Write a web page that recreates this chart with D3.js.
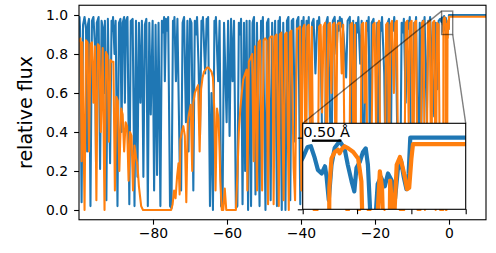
<!DOCTYPE html>
<html><head><meta charset="utf-8">
<script src="https://cdn.jsdelivr.net/npm/d3@7"></script>
<style>body{margin:0;background:#fff}svg{display:block}text{font-family:"DejaVu Sans",sans-serif}</style>
</head><body><svg id="c" width="496" height="253"></svg>
<script>
// ---- data (x in Å offset, y relative flux) ----
const blueFlux = [[-100.0,0.97],[-99.85,0.99],[-99.7,0.92],[-99.3,0.04],[-98.9,0.95],[-98.5,0.99],[-98.1,0.93],[-97.8,0.30],[-97.6,0.95],[-97.3,0.98],[-96.9,0.02],[-96.5,0.97],[-96.1,0.99],[-95.7,0.85],[-95.4,0.24],[-95.2,0.96],[-94.7,0.99],[-94.3,0.21],[-93.9,0.97],[-93.5,0.93],[-93.2,0.60],[-93.0,0.97],[-92.6,0.05],[-92.2,0.98],[-91.6,0.24],[-91.2,0.97],[-91.0,0.92],[-90.8,0.99],[-90.4,0.80],[-90.1,0.97],[-89.6,0.02],[-89.2,0.96],[-88.8,0.98],[-88.5,0.40],[-88.2,0.96],[-87.8,0.99],[-87.6,0.55],[-87.3,0.97],[-86.9,0.99],[-86.4,0.03],[-86.0,0.97],[-85.5,0.98],[-85.0,0.02],[-84.6,0.97],[-84.2,0.17],[-83.8,0.96],
[-83.4,0.55],[-83.0,0.97],[-82.6,0.17],[-82.2,0.95],[-81.8,0.98],[-81.4,0.02],[-81.0,0.96],[-80.6,0.49],[-80.1,0.97],[-79.7,0.10],[-79.3,0.95],[-78.9,0.18],[-78.5,0.96],[-78.0,0.02],[-77.6,0.97],[-77.3,0.91],[-77.0,0.99],[-76.8,0.66],[-76.5,0.98],[-76.2,0.92],[-75.9,0.99],[-75.4,0.02],[-75.0,0.01],[-74.6,0.97],[-74.4,0.93],[-74.2,0.99],[-73.8,0.66],[-73.4,0.98],[-72.8,0.25],[-72.4,0.10],[-72.0,0.96],[-71.6,0.99],[-71.1,0.45],[-70.7,0.97],[-70.4,0.30],[-70.0,0.98],[-69.6,0.96],[-69.1,0.10],[-68.7,0.97],[-68.4,0.90],[-68.1,0.99],[-67.7,0.75],[-67.3,0.38],[-66.9,0.97],[-66.7,0.93],[-66.5,0.99],[-65.9,0.70],[-65.5,0.98],[-65.3,0.92],[-65.1,0.99],[-64.6,0.02],[-64.2,0.60],[-63.8,0.00],[-63.4,0.97],[-63.2,0.91],[-63.0,0.99],[-62.4,0.66],[-62.0,0.97],[-61.6,0.02],[-61.2,0.01],[-60.8,0.96],[-60.1,0.45],[-59.7,0.97],
[-59.3,0.38],[-58.9,0.98],[-58.5,0.66],[-58.1,0.97],[-57.6,0.01],[-57.2,0.02],[-56.8,0.96],[-56.5,0.90],[-56.2,0.98],[-55.8,0.03],[-55.4,0.96],[-55.1,0.20],[-54.7,0.97],[-54.3,0.00],[-53.9,0.97],[-53.5,0.02],[-53.1,0.96],[-52.7,0.99],[-52.3,0.08],[-51.9,0.96],[-51.2,0.02],[-50.8,0.97],[-50.55,0.92],[-50.3,0.99],[-49.6,0.00],[-49.2,0.96],[-48.8,0.98],[-48.2,0.05],[-47.8,0.96],[-47.4,0.45],[-47.0,0.97],[-46.5,0.02],[-46.1,0.97],[-45.9,0.93],[-45.7,0.99],[-45.2,0.00],[-44.8,0.96],[-44.2,0.00],[-43.8,0.97],[-43.4,0.99],[-42.9,0.05],[-42.5,0.97],[-42.1,0.98],[-41.6,0.35],[-41.1,0.97],[-40.7,0.99],[-40.2,0.03],
[-39.8,0.97],[-39.55,0.92],[-39.3,0.99],[-38.9,0.60],[-38.5,0.97],[-38.2,0.91],[-37.9,0.99],[-37.4,0.02],[-37.0,0.96],[-36.6,0.98],[-36.1,0.70],[-35.6,0.97],[-35.35,0.93],[-35.1,0.99],[-34.7,0.85],[-34.0,0.02],[-33.6,0.03],[-33.2,0.96],[-32.8,0.99],[-32.2,0.55],[-31.8,0.05],[-31.4,0.97],[-30.9,0.99],[-30.4,0.80],[-30.0,0.97],[-29.75,0.92],[-29.5,0.99],[-29.25,0.94],[-29.0,0.98],[-28.5,0.90],[-27.8,0.68],[-27.4,0.97],[-26.8,0.99],[-26.3,0.30],[-25.9,0.97],[-25.5,0.02],[-25.1,0.96],[-24.8,0.91],[-24.5,0.99],[-24.0,0.75],[-23.6,0.97],[-23.1,0.04],[-22.7,0.60],[-22.2,0.97],[-21.95,0.92],[-21.7,0.99],[-21.3,0.03],[-20.9,0.96],[-20.4,0.98],[-19.8,0.75],[-19.4,0.96],[-19.0,0.02],[-18.6,0.96],[-18.35,0.92],[-18.1,0.99],[-17.5,0.70],[-17.0,0.03],[-16.6,0.96],[-16.2,0.98],[-15.8,0.10],[-15.4,0.96],[-15.1,0.92],[-14.8,0.99],[-14.3,0.80],[-13.7,0.02],[-13.2,0.04],[-12.8,0.96],[-12.5,0.91],[-12.2,0.98],[-11.7,0.55],[-11.2,0.97],[-10.9,0.93],[-10.6,0.99],[-10.2,0.02],[-9.8,0.03],[-9.4,0.96],[-9.15,0.92],[-8.9,0.99],[-8.3,0.05],[-7.9,0.96],[-7.5,0.40],[-7.1,0.97],[-6.85,0.92],[-6.6,0.99],[-6.0,0.45],[-5.6,0.97],[-5.35,0.93],[-5.1,0.99],[-4.5,0.70],[-4.0,0.48],[-3.6,0.96],[-3.1,0.62],[-2.8,0.97],[-2.4,0.98],
[-2.05,0.965],[-1.99,0.973],[-1.91,0.987],[-1.85,0.988],[-1.78,0.972],[-1.72,0.955],[-1.65,0.950],[-1.59,0.960],[-1.56,0.945],[-1.52,0.913],[-1.47,0.962],[-1.41,0.986],[-1.32,0.995],[-1.23,0.985],[-1.17,0.962],[-1.10,0.939],[-1.05,0.925],[-1.01,0.958],[-0.95,0.966],[-0.89,0.980],[-0.84,0.985],[-0.80,0.962],[-0.76,0.90],[-0.70,0.50],[-0.65,0.90],[-0.62,0.935],[-0.56,0.945],[-0.49,0.932],[-0.43,0.950],[-0.36,0.940],[-0.30,0.915],[-0.25,0.955],[-0.19,0.968],[-0.14,0.945],[-0.09,0.928],[-0.05,0.950],[-0.02,1.0],[10,1.0]];

const orangeFlux = [[-100.0,0.86],[-99.9,0.87],[-99.6,0.88],[-99.3,0.25],[-99.1,0.86],[-98.5,0.00],[-98.1,0.87],[-97.7,0.86],[-97.3,0.30],[-96.9,0.85],[-96.5,0.86],[-96.1,0.55],[-95.7,0.84],[-95.3,0.05],[-94.9,0.85],[-94.5,0.84],[-94.1,0.40],[-93.6,0.83],[-93.1,0.00],[-92.7,0.81],[-92.3,0.79],[-91.9,0.35],[-91.5,0.77],[-91.1,0.76],[-90.7,0.76],[-90.3,0.10],[-89.9,0.58],[-89.5,0.56],[-89.1,0.20],[-88.6,0.52],[-88.2,0.49],[-87.8,0.30],[-87.4,0.45],[-87.0,0.43],[-86.6,0.15],[-86.2,0.40],[-85.8,0.38],[-85.4,0.10],[-85.0,0.33],[-84.6,0.27],[-84.2,0.23],[-83.8,0.12],[-83.2,0.02],[-82.7,0.00],
[-75.1,0.00],[-74.7,0.03],[-74.3,0.10],[-73.9,0.06],[-73.5,0.17],[-73.1,0.24],[-72.8,0.08],[-72.6,0.36],[-72.2,0.40],[-71.8,0.43],[-71.4,0.38],[-71.0,0.04],[-70.6,0.45],[-70.2,0.50],[-69.8,0.54],[-69.4,0.20],[-69.1,0.55],[-68.7,0.60],[-68.3,0.62],[-67.8,0.64],[-67.4,0.30],[-67.0,0.62],[-66.6,0.68],[-66.2,0.71],[-65.8,0.72],[-65.4,0.73],[-65.0,0.73],[-64.6,0.72],[-64.2,0.71],[-63.8,0.68],[-63.4,0.50],[-63.1,0.10],[-62.7,0.52],[-62.3,0.47],[-62.0,0.30],[-61.8,0.15],[-61.4,0.00],[-61.0,0.00],[-60.6,0.11],[-60.2,0.00],[-57.6,0.00],[-57.2,0.18],[-56.8,0.40],[-56.4,0.52],[-56.0,0.60],[-55.6,0.67],[-55.1,0.70],[-54.7,0.72],[-54.5,0.10],[-54.1,0.76],[-53.6,0.78],[-53.2,0.80],[-52.8,0.25],[-52.4,0.84],[-51.9,0.10],[-51.5,0.86],[-51.1,0.87],[-50.5,0.10],[-50.1,0.87],[-49.7,0.88],[-49.3,0.87],[-48.9,0.03],[-48.5,0.88],[-48.1,0.89],[-47.7,0.89],[-47.4,0.03],[-47.0,0.89],[-46.6,0.90],[-46.0,0.02],[-45.7,0.90],[-45.3,0.91],[-44.7,0.05],[-44.3,0.90],[-43.9,0.91],[-43.3,0.00],[-43.0,0.91],[-42.6,0.92],[-42.0,0.22],[-41.6,0.05],[-41.1,0.93],[-40.7,0.93],[-40.3,0.94],
[-39.9,0.10],[-39.5,0.93],[-39.1,0.95],[-38.7,0.02],[-38.3,0.94],[-37.9,0.95],[-37.5,0.40],[-37.1,0.94],[-36.6,0.00],[-35.5,0.00],[-35.1,0.94],[-34.7,0.95],[-34.3,0.50],[-33.9,0.94],[-33.5,0.96],[-33.1,0.05],[-32.6,0.95],[-32.2,0.96],[-31.8,0.60],[-31.4,0.95],[-31.0,0.96],[-30.6,0.02],[-30.2,0.95],[-29.8,0.96],[-29.4,0.96],[-29.0,0.70],[-28.6,0.95],[-28.1,0.02],[-27.8,0.00],[-27.0,0.00],[-26.6,0.95],[-26.2,0.96],[-25.8,0.30],[-25.4,0.95],[-25.0,0.05],[-24.7,0.00],[-24.0,0.00],[-23.6,0.95],[-23.2,0.96],[-22.8,0.55],[-22.4,0.96],[-22.0,0.00],[-21.2,0.00],[-20.5,0.95],[-20.1,0.96],[-19.7,0.40],[-19.3,0.95],[-18.9,0.97],[-18.5,0.02],[-17.4,0.00],[-17.0,0.95],[-16.6,0.96],[-16.2,0.20],[-15.8,0.95],[-15.4,0.97],[-14.9,0.60],[-14.5,0.96],[-14.1,0.97],[-13.7,0.03],[-13.3,0.00],[-12.1,0.00],[-11.7,0.96],[-11.3,0.97],[-10.9,0.45],[-10.5,0.96],[-10.1,0.97],[-9.7,0.05],[-9.3,0.96],[-8.9,0.97],[-8.5,0.00],[-7.7,0.00],[-7.3,0.96],[-6.9,0.97],[-6.5,0.00],[-6.1,0.02],[-5.7,0.96],[-5.2,0.97],[-4.8,0.10],[-4.4,0.96],[-4.0,0.97],[-3.6,0.00],[-3.2,0.96],[-2.8,0.95],[-2.4,0.00],[-1.55,0.00],
[-1.51,0.93],[-1.47,0.971],[-1.41,0.980],[-1.35,0.983],[-1.32,0.978],[-1.28,0.984],[-1.23,0.988],[-1.16,0.985],[-1.07,0.980],[-0.98,0.971],[-0.92,0.939],[-0.89,0.85],[-0.86,0.00],[-0.67,0.00],[-0.63,0.88],[-0.58,0.953],[-0.54,0.93],[-0.51,0.85],[-0.47,0.30],[-0.45,0.50],[-0.39,0.94],[-0.35,0.90],[-0.32,0.88],[-0.27,0.962],[-0.21,0.973],[-0.18,0.965],[-0.12,0.945],[-0.08,0.928],[-0.04,0.930],[0.00,0.97],[0.03,0.991],[10,0.991]];

const xTicks = [-80, -60, -40, -20, 0];
const yTicks = [0.0, 0.2, 0.4, 0.6, 0.8, 1.0];
const xDomain = [-100, 10];
const yDomain = [-0.05, 1.05];
const insetXDomain = [-2, 1];
const insetYDomain = [0.9, 1.02];
const insetXTicks = [-2, -1, 0, 1];
const insetYTicks = [0.9, 1.0];
const yLabel = "relative flux";
const scaleBarLabel = "0.50 Å";
const scaleBarRange = [-1.83, -1.29];
const colors = {blue: "#1f77b4", orange: "#ff7f0e"};

// ---- drawing ----
const svg = d3.select("#c");
const L = 79, R = 486, T = 5.25, B = 219.75;
const x = d3.scaleLinear().domain(xDomain).range([L, R]);
const y = d3.scaleLinear().domain(yDomain).range([B, T]);
const fmt = d => d < 0 ? "\u2212" + Math.abs(d) : String(d);

const defs = svg.append("defs");
defs.append("clipPath").attr("id","mainClip").append("rect").attr("x",L).attr("y",T).attr("width",R-L).attr("height",B-T);

const line = d3.line().x(d => x(d[0])).y(d => y(d[1]));
const gMain = svg.append("g").attr("clip-path","url(#mainClip)");
[[blueFlux, colors.blue],[orangeFlux, colors.orange]].forEach(([data, c]) => {
  gMain.append("path").datum(data).attr("d", line).attr("fill","none")
    .attr("stroke", c).attr("stroke-width", 2.08).attr("stroke-linejoin","round");
});

// axes
const xAxis = d3.axisBottom(x).tickValues(xTicks).tickFormat(fmt).tickSize(4.9).tickSizeOuter(0).tickPadding(3.5);
const gx = svg.append("g").attr("transform",`translate(0,${B})`).call(xAxis);
const yAxis = d3.axisLeft(y).tickValues(yTicks).tickFormat(d3.format(".1f")).tickSize(4.9).tickSizeOuter(0).tickPadding(6);
const gy = svg.append("g").attr("transform",`translate(${L},0)`).call(yAxis);
[gx, gy].forEach(g => {
  g.select(".domain").remove();
  g.selectAll(".tick line").attr("stroke","#000").attr("stroke-width",1.1);
  g.selectAll(".tick text").attr("fill","#000").style("font-size","13.9px").style("font-family","DejaVu Sans");
});
svg.append("rect").attr("x",L).attr("y",T).attr("width",R-L).attr("height",B-T)
  .attr("fill","none").attr("stroke","#000").attr("stroke-width",1.1);

svg.append("text").attr("transform",`translate(25,${(T+B)/2}) rotate(-90)`)
  .attr("text-anchor","middle").attr("dominant-baseline","central")
  .style("font-size","19px").text(yLabel);

// inset geometry
const IL = 302.7, IR = 465.7, IT = 123.3, IB = 209.3;
const ix = d3.scaleLinear().domain(insetXDomain).range([IL, IR]);
const iy = d3.scaleLinear().domain(insetYDomain).range([IB, IT]);

// zoom indicator rectangle + connectors
const rx0 = x(insetXDomain[0]), rx1 = x(insetXDomain[1]);
const ry0 = y(insetYDomain[1]), ry1 = y(insetYDomain[0]);
const ind = svg.append("g").attr("stroke","#000").attr("stroke-opacity",0.5).attr("stroke-width",1.4).attr("fill","none");
ind.append("rect").attr("x",rx0).attr("y",ry0).attr("width",rx1-rx0).attr("height",ry1-ry0);
ind.append("line").attr("x1",rx0).attr("y1",ry0).attr("x2",IL).attr("y2",IT);
ind.append("line").attr("x1",rx1).attr("y1",ry1).attr("x2",IR).attr("y2",IT);

// inset
svg.append("rect").attr("x",IL).attr("y",IT).attr("width",IR-IL).attr("height",IB-IT).attr("fill","#fff");
defs.append("clipPath").attr("id","insetClip").append("rect").attr("x",IL).attr("y",IT).attr("width",IR-IL).attr("height",IB-IT);
const iline = d3.line().x(d => ix(d[0])).y(d => iy(d[1]));
const gIn = svg.append("g").attr("clip-path","url(#insetClip)");
[[blueFlux, colors.blue],[orangeFlux, colors.orange]].forEach(([data, c]) => {
  gIn.append("path").datum(data).attr("d", iline).attr("fill","none")
    .attr("stroke", c).attr("stroke-width", 4.2).attr("stroke-linejoin","round");
});
const gix = svg.append("g").attr("transform",`translate(0,${IB})`).call(d3.axisBottom(ix).tickValues(insetXTicks).tickFormat("").tickSize(4.9).tickSizeOuter(0));
const giy = svg.append("g").attr("transform",`translate(${IL},0)`).call(d3.axisLeft(iy).tickValues(insetYTicks).tickFormat("").tickSize(4.9).tickSizeOuter(0));
[gix, giy].forEach(g => { g.select(".domain").remove(); g.selectAll(".tick line").attr("stroke","#000").attr("stroke-width",1.1); });
svg.append("rect").attr("x",IL).attr("y",IT).attr("width",IR-IL).attr("height",IB-IT)
  .attr("fill","none").attr("stroke","#000").attr("stroke-width",1.1);

// scale bar
svg.append("line").attr("x1",ix(scaleBarRange[0])).attr("x2",ix(scaleBarRange[1]))
  .attr("y1",140.7).attr("y2",140.7).attr("stroke","#000").attr("stroke-width",2.3);
svg.append("text").attr("x",(ix(scaleBarRange[0])+ix(scaleBarRange[1]))/2).attr("y",136.5)
  .attr("text-anchor","middle").style("font-size","14.5px").text(scaleBarLabel);
</script></body></html>
